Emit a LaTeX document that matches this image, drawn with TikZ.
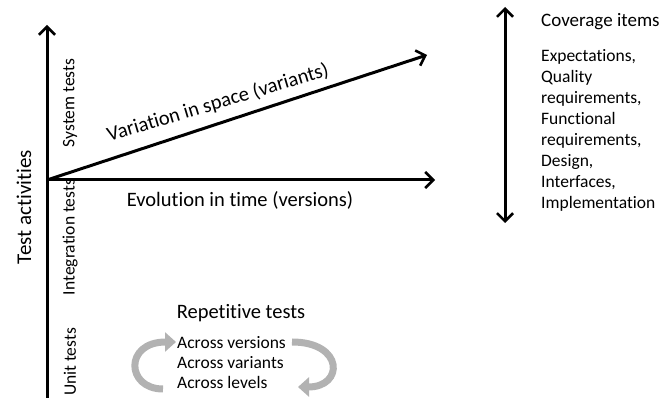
\documentclass[tikz,border=0pt]{standalone}
\usepackage{fontspec}
\setmainfont{Carlito}[Ligatures=NoCommon]
\usetikzlibrary{arrows.meta}
\begin{document}
\begin{tikzpicture}[x=1pt,y=1pt,
  barb/.tip={Straight Barb[length=8pt,width=16pt,line width=2.6pt]},
  axis/.style={line width=3pt,-barb},
  dblaxis/.style={line width=3pt,barb-barb},
  lbl/.style={inner sep=0pt,font=\fontsize{20.5}{24}\selectfont},
  sublbl/.style={inner sep=0pt,font=\fontsize{17.5}{21}\selectfont},
  cycle arrow/.style={line width=7pt,draw=gray!60,-{Triangle[width=19pt,length=11pt]}}
]
\useasboundingbox (0,0) rectangle (668,398);

% axes
\coordinate (O) at (47,218);
\coordinate (ytop) at (47,373);
\coordinate (ybot) at (47,0);
\coordinate (xend) at (435,218);
\coordinate (dend) at (427,343);
\draw[line width=3pt] (O) -- (ybot);
\draw[axis] (O) -- (ytop);
\draw[axis] (O) -- (xend);
\draw[axis] (O) -- (dend);

\node[lbl,rotate=16.7] (var) at (218,295) {Variation in space (variants)};
\node[lbl] (evo) at (240,198) {Evolution in time (versions)};

% vertical labels
\node[lbl,rotate=90,font=\fontsize{21}{24}\selectfont] (ta) at (24,191) {Test activities};
\node[sublbl,rotate=90] (sys) at (70,295) {System tests};
\node[sublbl,rotate=90] (integ) at (70,161) {Integration tests};
\node[sublbl,rotate=90] (unit) at (70,36) {Unit tests};

% coverage items
\coordinate (ctop) at (505,391);
\coordinate (cbot) at (505,175);
\draw[dblaxis] (cbot) -- (ctop);
\node[lbl,anchor=west,font=\fontsize{19}{22}\selectfont] (cov) at (541,376) {Coverage items};
\node[sublbl,anchor=north west,align=left,font=\fontsize{17.5}{21}\selectfont] (covlist) at (541,349)
  {Expectations,\\Quality\\requirements,\\Functional\\requirements,\\Design,\\Interfaces,\\Implementation};

% repetitive tests
\node[lbl] (rep) at (241,85) {Repetitive tests};
\node[sublbl,anchor=north west,align=left,font=\fontsize{17.5}{20}\selectfont] (across) at (177,62)
  {Across versions\\Across variants\\Across levels};

\coordinate (la) at (163,9);
\coordinate (lb) at (176,56);
\coordinate (ra) at (292,56);
\coordinate (rb) at (298,11);
\draw[cycle arrow] (la) .. controls (126,9) and (124,56) .. (lb);
\draw[cycle arrow] (ra) .. controls (344,56) and (344,11) .. (rb);
\end{tikzpicture}
\end{document}
